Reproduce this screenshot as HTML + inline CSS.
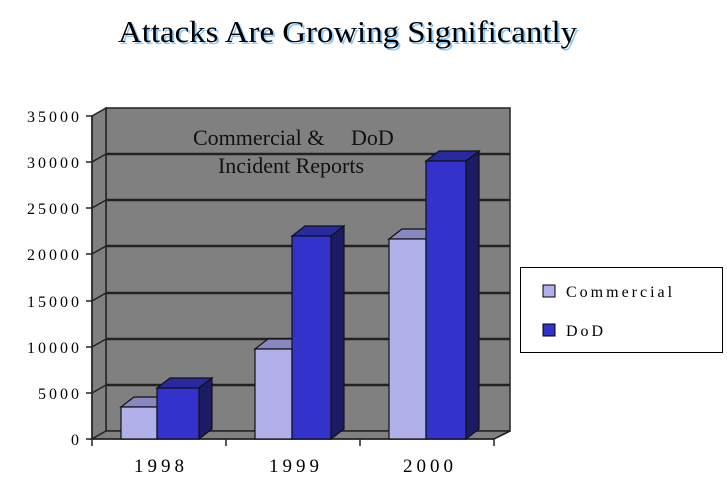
<!DOCTYPE html>
<html><head><style>body{margin:0;background:#fff}svg{display:block}</style></head><body>
<svg width="727" height="480" xmlns="http://www.w3.org/2000/svg" font-family="Liberation Serif, serif">
<text x="120" y="44" font-size="31" fill="#8ec8f8" textLength="459" lengthAdjust="spacingAndGlyphs">Attacks Are Growing Significantly</text>
<text x="118" y="42" font-size="31" fill="#000" textLength="459" lengthAdjust="spacingAndGlyphs">Attacks Are Growing Significantly</text>
<!-- walls -->
<polygon points="106,108 510,108 510,431 106,431" fill="#808080" stroke="#222" stroke-width="1.5"/>
<polygon points="92,116 106,108 106,431 92,439" fill="#808080" stroke="#222" stroke-width="1.5"/>
<polygon points="92,439 106,431 510,431 494,439" fill="#808080" stroke="#222" stroke-width="1.5"/>
<g stroke="#222" stroke-width="2.5">
<line x1="106" y1="154" x2="510" y2="154"/><line x1="106" y1="200" x2="510" y2="200"/>
<line x1="106" y1="246" x2="510" y2="246"/><line x1="106" y1="293" x2="510" y2="293"/>
<line x1="106" y1="339" x2="510" y2="339"/><line x1="106" y1="385" x2="510" y2="385"/>
</g>
<g stroke="#222" stroke-width="1.5">
<line x1="92" y1="162" x2="106" y2="154"/><line x1="92" y1="208" x2="106" y2="200"/>
<line x1="92" y1="254" x2="106" y2="246"/><line x1="92" y1="301" x2="106" y2="293"/>
<line x1="92" y1="347" x2="106" y2="339"/><line x1="92" y1="393" x2="106" y2="385"/>
<line x1="92" y1="116" x2="92" y2="439"/>
<line x1="92" y1="439" x2="494" y2="439"/><line x1="494" y1="439" x2="510" y2="431"/>
<line x1="86" y1="116" x2="92" y2="116"/><line x1="86" y1="162" x2="92" y2="162"/><line x1="86" y1="208" x2="92" y2="208"/><line x1="86" y1="254" x2="92" y2="254"/><line x1="86" y1="301" x2="92" y2="301"/><line x1="86" y1="347" x2="92" y2="347"/><line x1="86" y1="393" x2="92" y2="393"/><line x1="86" y1="439" x2="92" y2="439"/>
<line x1="92" y1="439" x2="92" y2="446"/><line x1="226" y1="439" x2="226" y2="446"/><line x1="360" y1="439" x2="360" y2="446"/><line x1="494" y1="439" x2="494" y2="446"/>
</g>
<text x="193" y="145" font-size="22" fill="#111">Commercial &amp;</text>
<text x="351" y="145" font-size="22" fill="#111">DoD</text>
<text x="291" y="173" font-size="22" text-anchor="middle" fill="#111">Incident Reports</text>
<!-- bars -->
<g stroke="#111" stroke-width="1.2">
<polygon points="121,407 134,397 170,397 157,407" fill="#8888c0"/><rect x="121" y="407" width="36" height="32" fill="#b0b0ea"/>
<polygon points="157,388 170,378 212,378 199,388" fill="#2a2aa0"/><polygon points="199,388 212,378 212,429 199,439" fill="#1c1c66"/><rect x="157" y="388" width="42" height="51" fill="#3333cc"/>
<polygon points="255,349 268,339 305,339 292,349" fill="#8888c0"/><rect x="255" y="349" width="37" height="90" fill="#b0b0ea"/>
<polygon points="292,236 305,226 344,226 331,236" fill="#2a2aa0"/><polygon points="331,236 344,226 344,429 331,439" fill="#1c1c66"/><rect x="292" y="236" width="39" height="203" fill="#3333cc"/>
<polygon points="389,239 402,229 439,229 426,239" fill="#8888c0"/><rect x="389" y="239" width="37" height="200" fill="#b0b0ea"/>
<polygon points="426,161 439,151 479,151 466,161" fill="#2a2aa0"/><polygon points="466,161 479,151 479,429 466,439" fill="#1c1c66"/><rect x="426" y="161" width="40" height="278" fill="#3333cc"/>
</g>
<g font-size="16" text-anchor="end" letter-spacing="3" fill="#000">
<text x="82" y="122">35000</text><text x="82" y="168">30000</text><text x="82" y="214">25000</text><text x="82" y="260">20000</text><text x="82" y="307">15000</text><text x="82" y="353">10000</text><text x="82" y="399">5000</text><text x="82" y="445">0</text>
</g>
<g font-size="19" text-anchor="middle" letter-spacing="4" fill="#000">
<text x="161" y="472">1998</text><text x="296" y="472">1999</text><text x="430" y="472">2000</text>
</g>
<rect x="520.5" y="267.5" width="202" height="85" fill="#fff" stroke="#000"/>
<rect x="543" y="285" width="12" height="12" fill="#b0b0ea" stroke="#000"/>
<rect x="543" y="324" width="12" height="12" fill="#3333cc" stroke="#000"/>
<g font-size="16" letter-spacing="3" fill="#000"><text x="566" y="297">Commercial</text><text x="566" y="336">DoD</text></g>
</svg>
</body></html>
